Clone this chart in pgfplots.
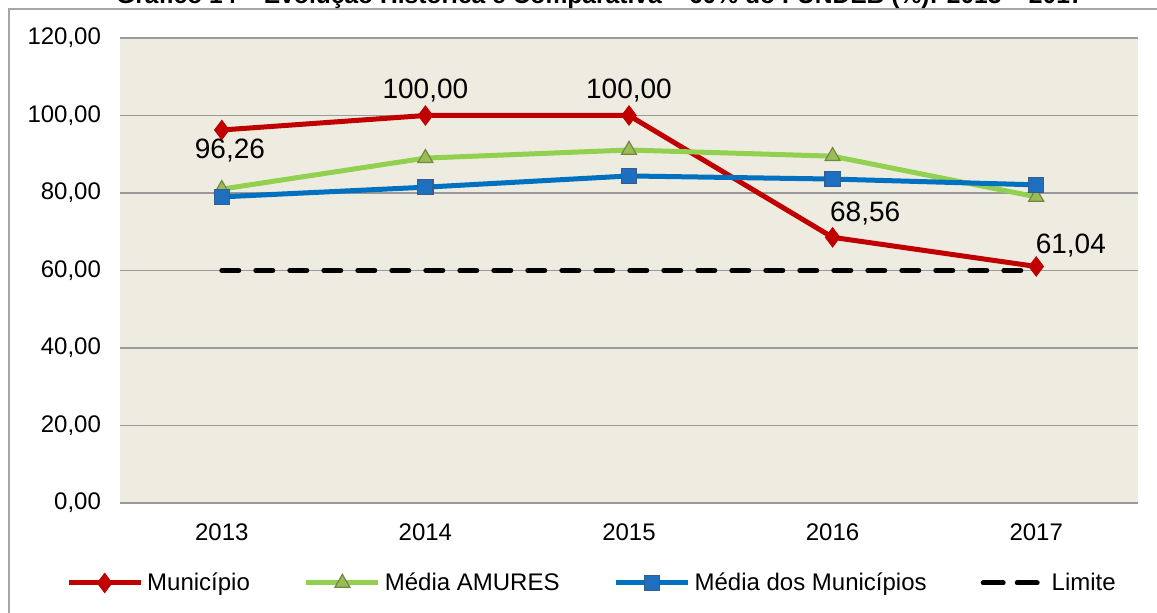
\documentclass[border=0pt]{standalone}
\usepackage{fontspec}
\setmainfont{Liberation Sans}
\usepackage{pgfplots}
\pgfplotsset{compat=1.18}
\definecolor{munred}{HTML}{C00000}
\definecolor{amugreen}{HTML}{92D050}
\definecolor{amuedge}{HTML}{71893F}
\definecolor{amufill}{HTML}{9BBB59}
\definecolor{medblue}{HTML}{0070C0}
\definecolor{mededge}{HTML}{385D8A}
\definecolor{medfill}{HTML}{1F6FC0}
\definecolor{plotbg}{HTML}{EEECE1}
\definecolor{gridgray}{HTML}{9A9A9A}

\begin{document}
\begin{tikzpicture}
\useasboundingbox (0,0) rectangle (578.5pt,306pt);
% outer frame, cut by the page on the right and bottom
\draw[gray!70, line width=0.8pt] (4.5pt,-10pt) rectangle (600pt,301.5pt);
% title, mostly above the page
\node[anchor=base, font=\fontsize{12.3}{14}\selectfont\bfseries] at (300pt,304pt)
    {Gráfico 14 – Evolução Histórica e Comparativa – 60\% do FUNDEB (\%): 2013 – 2017};
\begin{axis}[
    at={(60pt,54.5pt)}, anchor=south west,
    scale only axis,
    width=509pt, height=232.5pt,
    xmin=-0.5, xmax=4.5,
    ymin=0, ymax=120,
    xtick={0,1,2,3,4},
    xticklabels={2013,2014,2015,2016,2017},
    ytick={0,20,...,120},
    axis line style={draw=none},
    major tick length=0pt,
    ymajorgrids,
    grid style={gridgray, line width=0.8pt},
    axis background/.style={fill=plotbg},
    tick label style={font=\fontsize{12}{14}\selectfont, black},
    yticklabel style={xshift=-6pt},
    xticklabel style={yshift=-7pt},
    /pgf/number format/.cd, use comma, fixed, fixed zerofill, precision=2, 1000 sep={}, assume math mode=true,
    /pgfplots/.cd,
    legend columns=4,
    legend style={at={(0.4646,-0.172)}, anchor=center, draw=none, fill=none,
        font=\fontsize{12}{14}\selectfont,
        /tikz/every even column/.append style={column sep=25pt}},
    legend image code/.code={
        \draw[#1, mark=none] (0pt,0pt) -- (36pt,0pt);
        \path[#1, only marks] plot coordinates {(18pt,0pt)};
    },
]
\addplot[munred, line width=2.5pt, mark=diamond*, mark size=4.8pt,
    mark options={fill=munred, draw=munred, line width=0.5pt}]
    coordinates {(0,96.26) (1,100.00) (2,100.00) (3,68.56) (4,61.04)};
\addlegendentry{Município}
\addplot[amugreen, line width=2.5pt, mark=triangle*, mark size=4.3pt,
    mark options={fill=amufill, draw=amuedge, line width=0.6pt}]
    coordinates {(0,81.0) (1,89.0) (2,91.1) (3,89.5) (4,79.0)};
\addlegendentry{Média AMURES}
\addplot[medblue, line width=2.5pt, mark=square*, mark size=3.8pt,
    mark options={fill=medfill, draw=mededge, line width=0.6pt}]
    coordinates {(0,79.0) (1,81.5) (2,84.4) (3,83.6) (4,82.1)};
\addlegendentry{Média dos Municípios}
\addplot[black, line width=2.5pt, line cap=round, dash pattern=on 8.5pt off 8.5pt,
    legend image code/.code={
        \draw[black, line width=2.5pt, line cap=round, dash pattern=on 10pt off 7pt]
            (2pt,0pt) -- (33pt,0pt);
    }]
    coordinates {(0,60) (1,60) (2,60) (3,60) (4,60)};
\addlegendentry{Limite}
% data labels for Município
\node[font=\fontsize{14}{16}\selectfont] at (axis cs:0.04,91.0) {96,26};
\node[font=\fontsize{14}{16}\selectfont] at (axis cs:1,106.5) {100,00};
\node[font=\fontsize{14}{16}\selectfont] at (axis cs:2,106.5) {100,00};
\node[font=\fontsize{14}{16}\selectfont] at (axis cs:3.16,74.8) {68,56};
\node[font=\fontsize{14}{16}\selectfont] at (axis cs:4.17,66.5) {61,04};
\end{axis}
\end{tikzpicture}
\end{document}
